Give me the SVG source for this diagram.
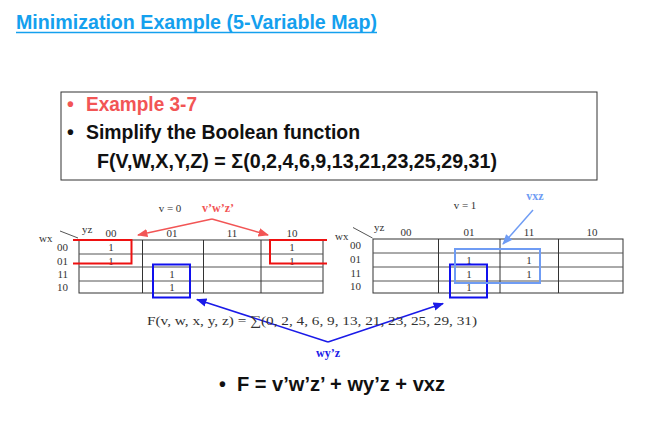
<svg xmlns="http://www.w3.org/2000/svg" width="660" height="440" viewBox="0 0 660 440">
<defs>
<style>
.title{font-family:"Liberation Sans",Arial,sans-serif;font-weight:bold;font-size:19.5px;fill:#14a0ee}
.box{font-family:"Liberation Sans",Arial,sans-serif;font-weight:bold;font-size:19.5px;fill:#111}
.red{fill:#f25555}
.s{font-family:"Liberation Serif","Times New Roman",serif;font-size:11px;fill:#333}
.c{text-anchor:middle}
.e{text-anchor:end}
.grid{fill:none;stroke:#333;stroke-width:1}
.row{stroke:#555;stroke-width:1}
.rl{fill:none;stroke:#ee1111;stroke-width:2}
.bl{fill:none;stroke:#1010ee;stroke-width:2}
.lb{fill:none;stroke:#6f9cf4;stroke-width:2}
.lab{font-family:"Liberation Serif","Times New Roman",serif;font-weight:bold;font-size:12px;text-anchor:middle}
.f{font-family:"Liberation Serif","Times New Roman",serif;font-size:13.5px;fill:#333}
</style>
<marker id="ar" viewBox="0 0 10 10" refX="9" refY="5" markerWidth="7" markerHeight="7" orient="auto"><path d="M0,1 L10,5 L0,9 z" fill="#f25555"/></marker>
<marker id="ab" viewBox="0 0 10 10" refX="9" refY="5" markerWidth="7" markerHeight="7" orient="auto"><path d="M0,1 L10,5 L0,9 z" fill="#1a1ae8"/></marker>
<marker id="al" viewBox="0 0 10 10" refX="9" refY="5" markerWidth="7" markerHeight="7" orient="auto"><path d="M0,1 L10,5 L0,9 z" fill="#6f9cf4"/></marker>
</defs>
<rect width="660" height="440" fill="#fff"/>
<g id="title">
<text class="title" x="16" y="29" textLength="361" lengthAdjust="spacingAndGlyphs">Minimization Example (5-Variable Map)</text>
<line x1="16" y1="32.5" x2="377" y2="32.5" stroke="#14a0ee" stroke-width="1.5"/>
</g>
<g id="problem">
<rect x="61" y="92" width="536" height="88" fill="none" stroke="#333" stroke-width="1"/>
<text class="box red" x="67" y="111">•</text>
<text class="box red" x="86" y="111" textLength="111" lengthAdjust="spacingAndGlyphs">Example 3-7</text>
<text class="box" x="67" y="139">•</text>
<text class="box" x="86" y="139" textLength="274" lengthAdjust="spacingAndGlyphs">Simplify the Boolean function</text>
<text class="box" x="97" y="168" textLength="400" lengthAdjust="spacingAndGlyphs">F(V,W,X,Y,Z) = Σ(0,2,4,6,9,13,21,23,25,29,31)</text>
</g>
<g id="map-v0">
<text class="s c" x="170" y="212">v = 0</text>
<line x1="60" y1="231" x2="78" y2="238" stroke="#555" stroke-width="1"/>
<text class="s" x="82" y="233">yz</text>
<text class="s" x="39" y="242">wx</text>
<text class="s c" x="111" y="237">00</text>
<text class="s c" x="172" y="237">01</text>
<text class="s c" x="232" y="237">11</text>
<text class="s c" x="292" y="237">10</text>
<text class="s e" x="68" y="251">00</text>
<text class="s e" x="68" y="264.5">01</text>
<text class="s e" x="68" y="278">11</text>
<text class="s e" x="68" y="291">10</text>
<rect class="grid" x="79" y="240" width="244" height="53"/>
<line class="row" x1="79" y1="254" x2="323" y2="254"/>
<line class="row" x1="79" y1="267" x2="323" y2="267"/>
<line class="row" x1="79" y1="281" x2="323" y2="281"/>
<line class="grid" x1="142.5" y1="240" x2="142.5" y2="293"/>
<line class="grid" x1="203.5" y1="240" x2="203.5" y2="293"/>
<line class="grid" x1="261" y1="240" x2="261" y2="293"/>
<text class="s c" x="111" y="251">1</text>
<text class="s c" x="111" y="264.5">1</text>
<text class="s c" x="292" y="251">1</text>
<text class="s c" x="292" y="264.5">1</text>
<text class="s c" x="172" y="278">1</text>
<text class="s c" x="172" y="291">1</text>
</g>
<g id="map-v1">
<text class="s c" x="465" y="209">v = 1</text>
<line x1="353" y1="227.5" x2="372.5" y2="238" stroke="#555" stroke-width="1"/>
<text class="s" x="374" y="231">yz</text>
<text class="s" x="335" y="240">wx</text>
<text class="s c" x="406" y="236">00</text>
<text class="s c" x="469" y="236">01</text>
<text class="s c" x="529" y="236">11</text>
<text class="s c" x="592" y="236">10</text>
<text class="s e" x="361" y="249">00</text>
<text class="s e" x="361" y="262.5">01</text>
<text class="s e" x="361" y="276.5">11</text>
<text class="s e" x="361" y="290">10</text>
<rect class="grid" x="373" y="239" width="250" height="54"/>
<line class="row" x1="373" y1="253" x2="623" y2="253"/>
<line class="row" x1="373" y1="267" x2="623" y2="267"/>
<line class="row" x1="373" y1="281" x2="623" y2="281"/>
<line class="grid" x1="438.5" y1="239" x2="438.5" y2="293"/>
<line class="grid" x1="500" y1="239" x2="500" y2="293"/>
<line class="grid" x1="558.5" y1="239" x2="558.5" y2="293"/>
<text class="s c" x="469" y="263.5">1</text>
<text class="s c" x="469" y="277.5">1</text>
<text class="s c" x="469" y="290.5">1</text>
<text class="s c" x="529" y="263.5">1</text>
<text class="s c" x="529" y="277.5">1</text>
</g>
<g id="group-vwz">
<path class="rl" d="M73,240 H131.5 V263.5 H73"/>
<path class="rl" d="M327,240 H270 V263.5 H327"/>
<text class="lab" x="218" y="212" fill="#f25555">v’w’z’</text>
</g>
<g id="group-wyz">
<rect class="bl" x="153" y="264.5" width="37" height="33"/>
<rect class="bl" x="450" y="264.5" width="37" height="33"/>
<text class="lab" x="328" y="357" fill="#1a1ae8">wy’z</text>
</g>
<g id="group-vxz">
<rect class="lb" x="455" y="249" width="85" height="34"/>
<text class="lab" x="535" y="200" fill="#6f9cf4">vxz</text>
</g>
<g id="connectors">
<line x1="212" y1="219" x2="138" y2="235" stroke="#f25555" stroke-width="1.5" marker-end="url(#ar)"/>
<line x1="212" y1="219" x2="268" y2="235" stroke="#f25555" stroke-width="1.5" marker-end="url(#ar)"/>
<line x1="328" y1="342" x2="197" y2="299.5" stroke="#1a1ae8" stroke-width="1.5" marker-end="url(#ab)"/>
<line x1="328" y1="342" x2="443" y2="303.5" stroke="#1a1ae8" stroke-width="1.5" marker-end="url(#ab)"/>
<line x1="533" y1="210" x2="503" y2="244" stroke="#6f9cf4" stroke-width="1.5" marker-end="url(#al)"/>
</g>
<g id="function">
<text class="f" x="147" y="325" textLength="330" lengthAdjust="spacingAndGlyphs">F(v, w, x, y, z) = ∑(0, 2, 4, 6, 9, 13, 21, 23, 25, 29, 31)</text>
</g>
<g id="result">
<text class="box" x="219" y="391">•</text>
<text class="box" x="237" y="391" textLength="208" lengthAdjust="spacingAndGlyphs">F = v’w’z’ + wy’z + vxz</text>
</g>
</svg>
